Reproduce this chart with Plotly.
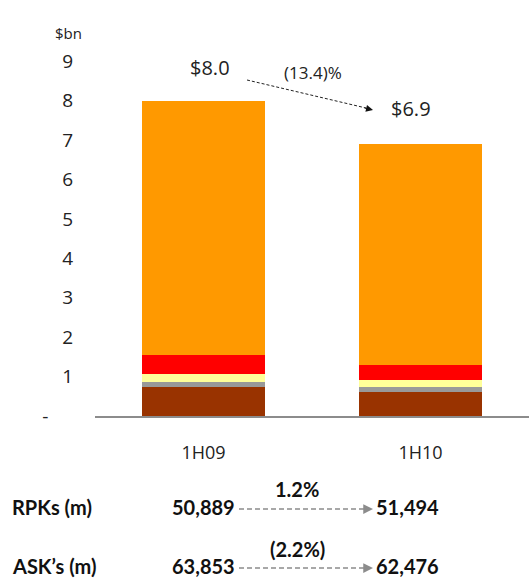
import plotly.graph_objects as go

# Half-year revenue breakdown ($bn), stacked bottom to top
categories = ["1H09", "1H10"]
seg_brown = [0.74, 0.61]
seg_gray = [0.13, 0.13]
seg_yellow = [0.20, 0.18]
seg_red = [0.48, 0.38]
seg_orange = [6.45, 5.60]
total_change_label = "(13.4)%"

# Traffic statistics
rpk = [50889, 51494]
ask = [63853, 62476]

y_ticks = [0, 1, 2, 3, 4, 5, 6, 7, 8, 9]
y_ticktext = ["-&nbsp;&nbsp;&nbsp;&nbsp;&nbsp;"] + [str(v) for v in y_ticks[1:]]

segments = [
    (seg_brown, "#993300"),
    (seg_gray, "#999999"),
    (seg_yellow, "#FFFF99"),
    (seg_red, "#FF0000"),
    (seg_orange, "#FF9900"),
]

W, H = 529, 579
L, R, T, B = 95, 0, 22, 163
PW, PH = W - L - R, H - T - B

def px(x):
    return (x - L) / PW

def py(y):
    return (H - B - y) / PH

fig = go.Figure()
for vals, color in segments:
    fig.add_trace(go.Bar(x=categories, y=vals, marker=dict(color=color, line=dict(width=0)),
                         showlegend=False, hoverinfo="skip"))

totals = [round(sum(v[i] for v, _ in segments), 1) for i in range(len(categories))]

font_main = "Open Sans, DejaVu Sans, sans-serif"
font_bold = "Lato, Liberation Sans, sans-serif"

def note(x, y, text, size, family=font_main, xanchor="center", color="#222"):
    return dict(xref="paper", yref="paper", x=px(x), y=py(y), text=text, showarrow=False,
                xanchor=xanchor, yanchor="middle", font=dict(size=size, color=color, family=family))

annotations = []
# totals above bars
annotations.append(dict(x=categories[0], y=totals[0], text=f"${totals[0]:.1f}", showarrow=False,
                        xshift=6, yshift=33, font=dict(size=20, color="#222", family=font_main)))
annotations.append(dict(x=categories[1], y=totals[1], text=f"${totals[1]:.1f}", showarrow=False,
                        xshift=-10, yshift=36, font=dict(size=20, color="#222", family=font_main)))
annotations.append(note(313, 72, total_change_label, 17))
annotations.append(note(68, 33, "$bn", 15))

# dashed connector between the totals
shapes = [dict(type="line", xref="paper", yref="paper", x0=px(247), y0=py(80), x1=px(366), y1=py(108),
               line=dict(color="#222", width=1, dash="3px,2px"))]
annotations.append(dict(xref="paper", yref="paper", x=px(373), y=py(110), ax=-10, ay=-2.4,
                        axref="pixel", ayref="pixel", text="", showarrow=True, arrowhead=2,
                        arrowsize=1.4, arrowwidth=1, arrowcolor="#111"))

# traffic table below the chart
def pct_label(a, b):
    p = (b / a - 1) * 100
    return f"{p:.1f}%" if p >= 0 else f"({abs(p):.1f}%)"

rows = [("RPKs (m)", rpk, 507, 489), ("ASK\u2019s (m)", ask, 566, 549)]
for name, vals, yrow, ylab in rows:
    annotations.append(note(10, yrow, f"<b>{name}</b>", 20, font_bold, "left", "#111"))
    annotations.append(note(237, yrow, f"<b>{vals[0]:,}</b>", 20, font_bold, "right", "#111"))
    annotations.append(note(374, yrow, f"<b>{vals[1]:,}</b>", 20, font_bold, "left", "#111"))
    annotations.append(note(297, ylab, f"<b>{pct_label(vals[0], vals[1])}</b>", 20, font_bold,
                            "center", "#111"))
    shapes.append(dict(type="line", xref="paper", yref="paper", x0=px(239), x1=px(366),
                       y0=py(yrow + 2), y1=py(yrow + 2),
                       line=dict(color="#8c8c8c", width=1.5, dash="5px,3px")))
    annotations.append(dict(xref="paper", yref="paper", x=px(373), y=py(yrow + 2), ax=-8, ay=0,
                            axref="pixel", ayref="pixel", text="", showarrow=True, arrowhead=2,
                            arrowsize=1.3, arrowwidth=1.5, arrowcolor="#8c8c8c"))

fig.update_layout(
    width=W, height=H,
    margin=dict(l=L, r=R, t=T, b=B),
    barmode="stack", bargap=0.43,
    plot_bgcolor="white", paper_bgcolor="white",
    font=dict(family=font_main, color="#222"),
    shapes=shapes, annotations=annotations,
    xaxis=dict(type="category", range=[-0.5, 1.5], showline=True, linecolor="#8c8c8c",
               linewidth=2, ticks="", showgrid=False, ticklabelstandoff=19,
               tickfont=dict(size=18, color="#222")),
    yaxis=dict(range=[0, 10], tickvals=y_ticks, ticktext=y_ticktext, showgrid=False,
               zeroline=False, showline=False, ticks="", ticklabelstandoff=21,
               tickfont=dict(size=19, color="#222")),
)

fig.write_html("out.html")
